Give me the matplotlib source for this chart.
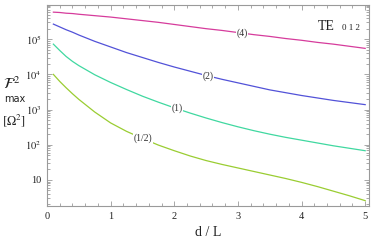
import numpy as np
import matplotlib
matplotlib.use("Agg")
import matplotlib.pyplot as plt

plt.rcParams['mathtext.fontset'] = 'stix'
plt.rcParams['font.family'] = ['Liberation Serif', 'DejaVu Serif']

d = [0.1, 0.2, 0.3, 0.4, 0.5, 0.75, 1.0, 1.25, 1.5, 1.75, 2.0, 2.25, 2.5, 2.75, 3.0,
     3.25, 3.5, 3.75, 4.0, 4.25, 4.5, 4.75, 5.0]
log_f4 = [5.77, 5.76, 5.74, 5.73, 5.71, 5.67, 5.63, 5.58, 5.53, 5.48, 5.42, 5.36, 5.30,
          5.25, 5.19, 5.13, 5.08, 5.02, 4.97, 4.91, 4.86, 4.80, 4.74]
log_f2 = [5.43, 5.35, 5.27, 5.20, 5.12, 4.94, 4.78, 4.62, 4.48, 4.34, 4.21, 4.09, 3.97,
          3.86, 3.76, 3.66, 3.56, 3.48, 3.40, 3.33, 3.26, 3.20, 3.14]
log_f1 = [4.86, 4.68, 4.51, 4.37, 4.25, 3.99, 3.77, 3.57, 3.38, 3.21, 3.05, 2.90, 2.76,
          2.63, 2.51, 2.40, 2.30, 2.21, 2.13, 2.05, 1.97, 1.90, 1.83]
log_fh = [4.00, 3.80, 3.62, 3.45, 3.29, 2.93, 2.62, 2.38, 2.18, 1.99, 1.83, 1.68, 1.55,
          1.44, 1.34, 1.24, 1.14, 1.04, 0.93, 0.81, 0.68, 0.55, 0.41]

series_labels = ['(4)', '(2)', '(1)', '(1/2)']
label_d = [3.07, 2.53, 2.04, 1.51]
colors = ['#d63c9c', '#5252d8', '#40d8a0', '#9acd32']

fig = plt.figure(figsize=(3.74, 2.44), dpi=100)
ax = fig.add_axes([0.1257, 0.1557, 0.8609, 0.8238])

for lg, lab, ld, c in zip([log_f4, log_f2, log_f1, log_fh], series_labels, label_d, colors):
    y = 10 ** np.array(lg)
    ax.plot(d, y, color=c, lw=0.9)
    yl = 10 ** np.interp(ld, d, lg)
    ax.text(ld, yl, lab, ha='center', va='center', fontsize=7, color='#333333',
            bbox=dict(facecolor='white', edgecolor='none', pad=0.3))

ax.set_yscale('log')
ax.set_xlim(0, 5.06)
ax.set_ylim(1.81, 9.4e5)
ax.set_xticks([0, 1, 2, 3, 4, 5])
ax.set_xticklabels(['0', '1', '2', '3', '4', '5'])
ax.set_xticks(np.arange(0, 5.01, 0.2), minor=True)
ax.set_yticks([10, 1e2, 1e3, 1e4, 1e5])
ax.set_yticklabels(['10', r'$10^{2}$', r'$10^{3}$', r'$10^{4}$', r'$10^{5}$'])
ax.yaxis.set_minor_locator(matplotlib.ticker.LogLocator(base=10, subs=np.arange(2, 10)))
ax.yaxis.set_minor_formatter(matplotlib.ticker.NullFormatter())

for s in ax.spines.values():
    s.set_color('#9a9a9a')
    s.set_linewidth(0.8)
ax.tick_params(which='both', direction='in', top=True, right=True, color='#9a9a9a',
               labelsize=7.5, labelcolor='#222222', width=0.6)
ax.tick_params(which='major', length=3.5, pad=4)
ax.tick_params(which='minor', length=2)

fig.text(208 / 374, 1 - 232 / 244, 'd / L', ha='center', va='center', fontsize=10, color='#222222')
fig.text(12 / 374, 1 - 84 / 244, r'$\mathcal{F}^2$', ha='center', va='center', fontsize=11, color='#222222')
fig.text(15 / 374, 1 - 99 / 244, 'max', ha='center', va='center', fontsize=7, family='DejaVu Sans', color='#222222')
fig.text(14 / 374, 1 - 121 / 244, r'$[\Omega^2]$', ha='center', va='center', fontsize=9, color='#222222')
fig.text(318 / 374, 1 - 26 / 244, 'TE', ha='left', va='center', fontsize=10, color='#222222')
fig.text(342 / 374, 1 - 28 / 244, '0 1 2', ha='left', va='center', fontsize=6.5, color='#222222')

fig.savefig('out.png', dpi=100)
